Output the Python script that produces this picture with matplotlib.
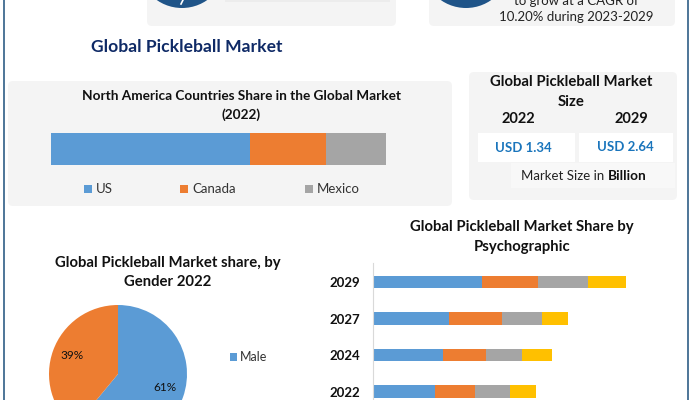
import matplotlib
matplotlib.use("Agg")
import matplotlib.pyplot as plt
from matplotlib.patches import FancyBboxPatch, Rectangle, Circle

plt.rcParams['font.family'] = ['Lato', 'DejaVu Sans']

W, H = 693, 400
BLUE, ORANGE, GREY, GOLD = '#5b9bd5', '#ed7d31', '#a5a5a5', '#ffc000'
PANEL = '#f4f4f4'
NAVY = '#0f2a66'

# north america bar
na_names = ['US', 'Canada', 'Mexico']
na_share = [59.4, 22.7, 17.9]
na_colors = [BLUE, ORANGE, GREY]

# gender pie
gender_names = ['Male', 'Female']
gender_share = [61, 39]

# psychographic stacked bars
years = ['2022', '2024', '2027', '2029']
seg_a = [0.62, 0.70, 0.76, 1.09]
seg_b = [0.40, 0.43, 0.53, 0.56]
seg_c = [0.35, 0.36, 0.40, 0.50]
seg_d = [0.26, 0.30, 0.26, 0.38]

size_years = ['2022', '2029']
size_values = ['USD 1.34', 'USD 2.64']


def axes_px(x0, y0, x1, y1):
    # pixel box, y counted from the top like the picture
    return fig.add_axes([x0 / W, 1 - y1 / H, (x1 - x0) / W, (y1 - y0) / H])


def panel(x0, y0, x1, y1, color=PANEL, r=5):
    bg.add_patch(FancyBboxPatch((x0 + r, y0 + r), x1 - x0 - 2 * r, y1 - y0 - 2 * r,
                                boxstyle='round,pad=%d,rounding_size=%d' % (r, r),
                                fc=color, ec='none', zorder=1))


fig = plt.figure(figsize=(W / 100, H / 100), dpi=100, facecolor='white')
bg = fig.add_axes([0, 0, 1, 1])
bg.set_xlim(0, W)
bg.set_ylim(H, 0)
bg.axis('off')

# frame lines
bg.plot([3.5, 3.5], [0, H], color='#2f5d86', lw=1.2, zorder=2)
bg.plot([687.5, 687.5], [0, H], color='#2f5d86', lw=1.2, zorder=2)

# top boxes, cut by the crop
panel(147, -20, 396, 26)
panel(429, -20, 675, 26)
bg.add_patch(Circle((182, -36), 44, fc='#1f5488', ec='none', zorder=2))
bg.add_patch(Circle((466, -36), 44, fc='#1f5488', ec='none', zorder=2))
bg.plot([181, 183], [4, 0], color='white', lw=1.2, zorder=3)
bg.add_patch(Rectangle((225, 0), 165, 2, fc='#ececec', ec='none', zorder=2))
bg.text(576.5, 1, 'to grow at a CAGR of', ha='center', va='center', fontsize=9.5, color='#222222', zorder=3)
bg.text(576.5, 17, '10.20% during 2023-2029', ha='center', va='center', fontsize=9.5, color='#222222', zorder=3)

bg.text(186.5, 46.5, 'Global Pickleball Market', ha='center', va='center', fontsize=12.6,
        fontweight='bold', color=NAVY)

# north america panel
panel(8, 81, 452, 206)
bg.text(241, 95.5, 'North America Countries Share in the Global Market', ha='center', va='center',
        fontsize=9.8, fontweight='bold', color='#111111', zorder=3)
bg.text(241, 114.5, '(2022)', ha='center', va='center', fontsize=9.8, fontweight='bold',
        color='#111111', zorder=3)

ax = axes_px(51, 133, 386, 165)
left = 0
for name, val, col in zip(na_names, na_share, na_colors):
    ax.barh(0, val, left=left, height=1, color=col, label=name)
    left += val
ax.set_xlim(0, 100)
ax.set_ylim(-0.5, 0.5)
ax.axis('off')

for x, name, col in zip([84, 180, 305], na_names, na_colors):
    bg.add_patch(Rectangle((x, 185), 8, 8, fc=col, ec='none', zorder=3))
    bg.text(x + 12, 189, name, ha='left', va='center', fontsize=9.5, color='#333333', zorder=3)

# market size panel
panel(469, 72, 677, 200)
bg.text(571, 81.5, 'Global Pickleball Market', ha='center', va='center', fontsize=10.7,
        fontweight='bold', color='#111111', zorder=3)
bg.text(571, 101.5, 'Size', ha='center', va='center', fontsize=10.7, fontweight='bold',
        color='#111111', zorder=3)
for x, yr in zip([518, 631], size_years):
    bg.text(x, 119, yr, ha='center', va='center', fontsize=10.5, fontweight='bold',
            color='#111111', zorder=3)
for box, x, y, val in zip([(478, 575), (579, 673)], [523, 625], [148, 147], size_values):
    bg.add_patch(Rectangle((box[0], 133), box[1] - box[0], 29, fc='white', ec='none', zorder=2))
    bg.text(x, y, val, ha='center', va='center', fontsize=9.5, fontweight='bold',
            color='#1a75bc', zorder=3)
bg.add_patch(Rectangle((511, 163), 164, 25, fc='#f8f8f8', ec='none', zorder=2))
bg.text(521, 176, 'Market Size in', ha='left', va='center', fontsize=9.5, color='#222222', zorder=3)
bg.text(608, 176, 'Billion', ha='left', va='center', fontsize=9.8, fontweight='bold',
        color='#111111', zorder=3)

# gender pie
bg.text(168, 262.5, 'Global Pickleball Market share, by', ha='center', va='center', fontsize=10.7,
        fontweight='bold', color='#111111')
bg.text(168, 282.5, 'Gender 2022', ha='center', va='center', fontsize=10.7, fontweight='bold',
        color='#111111')
pie_ax = axes_px(49, 305, 187, 443)
wedges, texts = pie_ax.pie(gender_share, colors=[BLUE, ORANGE], startangle=90, counterclock=False,
                           radius=1)
pie_ax.set_xlim(-1, 1)
pie_ax.set_ylim(-1, 1)
pie_ax.text(0.68, -0.19, '61%', ha='center', va='center', fontsize=8.5, color='#111111')
pie_ax.text(-0.67, 0.27, '39%', ha='center', va='center', fontsize=8.5, color='#111111')
bg.add_patch(Rectangle((230, 353), 7, 8, fc=BLUE, ec='none', zorder=3))
bg.text(240, 357, gender_names[0], ha='left', va='center', fontsize=9, color='#333333')

# psychographic chart
bg.text(522, 226.5, 'Global Pickleball Market Share by', ha='center', va='center', fontsize=10.7,
        fontweight='bold', color='#111111')
bg.text(522, 247, 'Psychographic', ha='center', va='center', fontsize=10.7, fontweight='bold',
        color='#111111')

bar_ax = axes_px(373, 263, 673, 400)
pos = [0, 1, 2, 3]
left = [0, 0, 0, 0]
for vals, col in zip([seg_a, seg_b, seg_c, seg_d], [BLUE, ORANGE, GREY, GOLD]):
    bar_ax.barh(pos, vals, left=left, height=0.35, color=col)
    left = [l + v for l, v in zip(left, vals)]
bar_ax.set_xlim(0, 3.0)
bar_ax.set_ylim(-0.23, 3.52)
bar_ax.set_yticks(pos)
bar_ax.set_yticklabels(years, fontweight='bold', fontsize=9.5, color='#111111')
bar_ax.tick_params(axis='y', length=0, pad=9)
bar_ax.set_xticks([])
for s in ['top', 'right', 'bottom']:
    bar_ax.spines[s].set_visible(False)
bar_ax.spines['left'].set_color('#d9d9d9')
bar_ax.patch.set_alpha(0)

fig.savefig('out.png', dpi=100)
